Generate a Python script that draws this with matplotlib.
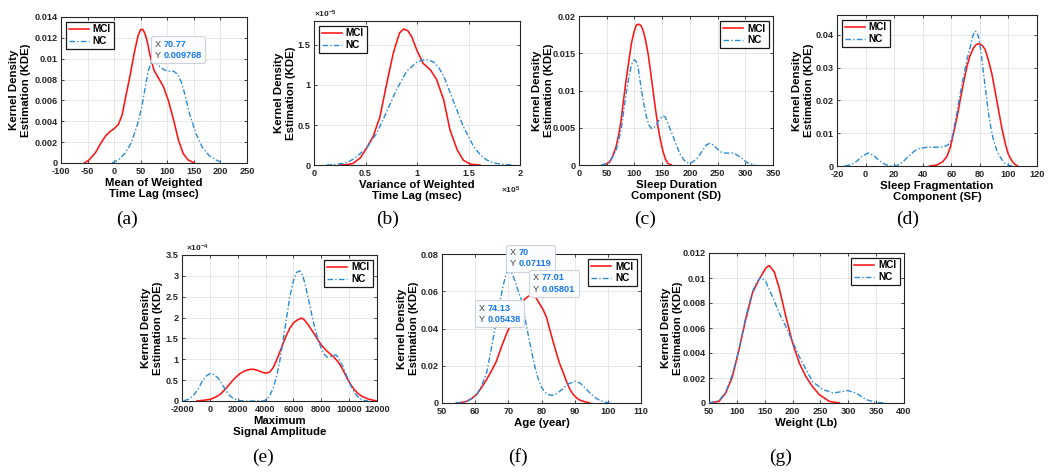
import numpy as np
import matplotlib
matplotlib.use("Agg")
import matplotlib.pyplot as plt
from matplotlib.ticker import FuncFormatter
from matplotlib.lines import Line2D
from matplotlib.offsetbox import TextArea, HPacker, VPacker, AnnotationBbox

plt.rcParams["font.family"] = ["Liberation Sans", "DejaVu Sans"]
plt.rcParams["font.weight"] = "bold"
plt.rcParams["mathtext.default"] = "regular"

# ---- data ----
# (a) mean of weighted time lag
a_mci_x = [-56, -47, -35, -25, -16, -8, 0, 8, 15, 22, 30, 38, 45, 50, 54, 58, 62, 69, 75, 84, 93, 102, 112, 121, 130, 139, 151]
a_mci_y = [0, 0.0003, 0.001, 0.0019, 0.0026, 0.003, 0.0033, 0.0037, 0.0046, 0.0064, 0.0084, 0.0106, 0.0122, 0.0128,
           0.0128, 0.0124, 0.0117, 0.0100, 0.0089, 0.0081, 0.0073, 0.006, 0.0041, 0.0022, 0.0009, 0.0003, 0]
a_nc_x = [-4, 8, 20, 32, 44, 52, 58, 64, 70.77, 78, 87, 95, 103, 112, 120, 126, 132, 142, 154, 166, 179, 191, 205]
a_nc_y = [0, 0.0003, 0.0009, 0.0019, 0.0037, 0.0054, 0.0071, 0.0088, 0.009768, 0.0096, 0.0092, 0.0089, 0.0088,
          0.0088, 0.0085, 0.0078, 0.0068, 0.0047, 0.0028, 0.0015, 0.0007, 0.0003, 0]

# (b) variance of weighted time lag (x in 1e5, y in 1e-5)
b_mci_x = [0.25, 0.32, 0.38, 0.45, 0.51, 0.575, 0.64, 0.70, 0.77, 0.83, 0.87, 0.91, 0.95, 1.0, 1.06, 1.13, 1.19,
           1.26, 1.32, 1.39, 1.45, 1.52, 1.61]
b_mci_y = [0, 0.005, 0.02, 0.09, 0.21, 0.36, 0.6, 0.98, 1.4, 1.65, 1.70, 1.68, 1.6, 1.43, 1.27, 1.19, 1.07, 0.81,
           0.44, 0.19, 0.06, 0.01, 0]
b_nc_x = [0.12, 0.2, 0.28, 0.35, 0.41, 0.51, 0.61, 0.70, 0.80, 0.90, 1.0, 1.08, 1.16, 1.21, 1.26, 1.35, 1.45, 1.55,
          1.62, 1.68, 1.75, 1.81, 1.94]
b_nc_y = [0, 0.005, 0.02, 0.05, 0.1, 0.21, 0.4, 0.65, 0.94, 1.17, 1.29, 1.32, 1.29, 1.22, 1.11, 0.81, 0.48, 0.23,
          0.12, 0.06, 0.025, 0.01, 0]
B_XSCALE = 1e5
B_YSCALE = 1e-5

# (c) sleep duration component
c_mci_x = [46, 55, 61, 67, 72, 76, 80, 85, 90, 94.5, 99, 103.5, 108, 112, 115.5, 120, 124.5, 129, 133.6, 138, 142.6,
           147, 151.6, 156, 160.6, 166.7]
c_mci_y = [0, 0.0004, 0.0012, 0.0025, 0.0042, 0.006, 0.0085, 0.0114, 0.014, 0.0163, 0.0178, 0.0188, 0.0189, 0.0187,
           0.0181, 0.0168, 0.015, 0.0126, 0.01, 0.0075, 0.0051, 0.0033, 0.0018, 0.0008, 0.0002, 0]
c_nc_x = [40, 55, 67, 76, 85, 90, 94.5, 98, 100.5, 103, 106.5, 112.5, 117, 121.5, 126, 130.6, 135, 139.6, 145, 151.6,
          156, 160.6, 165, 170, 176, 182, 190, 198, 205, 213, 219, 225, 230, 235.7, 242, 249, 255, 261, 270, 279,
          286, 294, 300, 306, 318]
c_nc_y = [0, 0.0003, 0.002, 0.0047, 0.0096, 0.0118, 0.0134, 0.014, 0.0141, 0.0139, 0.0132, 0.0101, 0.0082, 0.0065,
          0.0054, 0.0049, 0.005, 0.0054, 0.0061, 0.0066, 0.0064, 0.0056, 0.0047, 0.0038, 0.0026, 0.0015, 0.0006,
          0.0002, 0.0004, 0.0009, 0.0015, 0.0022, 0.0027, 0.0029, 0.0027, 0.0022, 0.0018, 0.0016, 0.0016, 0.0016,
          0.0013, 0.0009, 0.0005, 0.0002, 0]

# (d) sleep fragmentation component
d_mci_x = [45, 50, 54, 57, 59.5, 61.5, 64, 66.2, 68.5, 70.9, 73, 75.6, 77.5, 79.5, 81.5, 83.7, 86, 88.4, 90.7, 93.1,
           95.5, 97.8, 100, 102.5, 104.5, 106.5]
d_mci_y = [0, 0.0003, 0.0013, 0.0029, 0.006, 0.0098, 0.0148, 0.02, 0.0252, 0.0302, 0.0335, 0.036, 0.037, 0.0373,
           0.0368, 0.0355, 0.0322, 0.0281, 0.0227, 0.017, 0.0113, 0.0068, 0.0035, 0.0015, 0.0005, 0]
d_nc_x = [-14.6, -10, -6, -2, 2, 6, 10, 14, 18, 22, 26, 30, 34, 38, 43, 48, 54.5, 58, 60.5, 63.8, 66, 68.5, 71, 73.2,
          75, 76.5, 78, 79.5, 81, 82.6, 84.5, 86.1, 88, 89.6, 92, 94.3, 97, 99, 102.5]
d_nc_y = [0, 0.0004, 0.0015, 0.0031, 0.004, 0.0031, 0.0015, 0.0004, 0, 0.0001, 0.0012, 0.0029, 0.0045, 0.0054,
          0.0057, 0.0057, 0.0058, 0.0065, 0.0085, 0.0159, 0.0215, 0.0271, 0.0325, 0.0362, 0.0395, 0.0411, 0.0408,
          0.0385, 0.034, 0.0281, 0.0215, 0.0159, 0.011, 0.0078, 0.0046, 0.0027, 0.001, 0.0004, 0]

# (e) maximum signal amplitude (y in 1e-4)
e_mci_x = [-930, -500, 25, 400, 740, 1100, 1455, 1800, 2170, 2500, 2890, 3150, 3360, 3600, 3840, 4080, 4317, 4550,
           4790, 5030, 5270, 5500, 5750, 6000, 6220, 6580, 6800, 7050, 7290, 7530, 7770, 8010, 8300, 8600, 8900,
           9200, 9500, 9800, 10100, 10400, 10700, 11000, 11350, 11700, 12000]
e_mci_y = [0, 0.015, 0.04, 0.09, 0.16, 0.28, 0.42, 0.55, 0.66, 0.72, 0.76, 0.76, 0.74, 0.71, 0.68, 0.67, 0.70, 0.8,
           0.98, 1.18, 1.39, 1.58, 1.75, 1.87, 1.93, 1.99, 1.94, 1.83, 1.71, 1.59, 1.46, 1.34, 1.23, 1.14, 1.05,
           0.94, 0.78, 0.58, 0.4, 0.26, 0.16, 0.1, 0.05, 0.02, 0]
e_nc_x = [-1880, -1500, -1165, -850, -570, -250, 25, 320, 620, 920, 1220, 1450, 1695, 2000, 2410, 3840, 4100, 4317,
          4550, 4790, 5030, 5270, 5500, 5750, 6000, 6220, 6460, 6640, 6820, 7050, 7290, 7530, 7770, 8010, 8250,
          8450, 8600, 8850, 9085, 9300, 9560, 9800, 10040, 10280, 10520, 10760, 11000, 11350]
e_nc_y = [0, 0.05, 0.137, 0.28, 0.46, 0.6, 0.66, 0.63, 0.54, 0.38, 0.22, 0.12, 0.06, 0.02, 0, 0, 0.04, 0.137, 0.32,
          0.58, 0.98, 1.47, 1.98, 2.51, 2.88, 3.08, 3.12, 3.02, 2.83, 2.48, 2.11, 1.75, 1.47, 1.25, 1.10, 1.05, 1.06,
          1.1, 1.10, 0.98, 0.82, 0.62, 0.42, 0.26, 0.14, 0.06, 0.02, 0]
E_YSCALE = 1e-4

# (f) age
f_mci_x = [54.3, 56, 57.4, 59, 60.4, 62, 63.4, 65, 66.4, 67.9, 69.2, 70.5, 72, 73.2, 74.2, 75.5, 76.5, 77.01, 78, 79,
           80.5, 81.5, 82.5, 83.5, 84.5, 85.5, 86.6, 87.6, 88.6, 89.6, 90.6, 91.6, 92.6, 94.6]
f_mci_y = [0, 0.0003, 0.0009, 0.0025, 0.0045, 0.0085, 0.0125, 0.0175, 0.0224, 0.03, 0.036, 0.0415, 0.047, 0.051,
           0.0544, 0.0566, 0.0578, 0.05801, 0.0575, 0.0545, 0.0501, 0.046, 0.0394, 0.033, 0.0268, 0.021, 0.0161,
           0.0112, 0.0072, 0.0045, 0.0027, 0.0015, 0.0009, 0]
f_nc_x = [54.3, 56, 57.4, 59, 60.5, 62, 63.5, 65, 66.2, 67.4, 68.5, 69.3, 70, 70.9, 72, 73, 74.13, 75, 76, 77, 78,
          79, 80, 81, 82, 83, 84, 85, 86.5, 88, 90, 91.5, 92.6, 94, 95.1, 96.5, 97.6, 99, 100.7]
f_nc_y = [0, 0.0004, 0.0009, 0.0022, 0.0045, 0.0095, 0.0165, 0.0305, 0.042, 0.0537, 0.0635, 0.069, 0.07119, 0.0705,
          0.0655, 0.06, 0.05438, 0.046, 0.0365, 0.0275, 0.0195, 0.013, 0.0085, 0.0058, 0.0046, 0.0041, 0.0044,
          0.0055, 0.0078, 0.0102, 0.0116, 0.0108, 0.0092, 0.0065, 0.0045, 0.0025, 0.0014, 0.0005, 0]

# (g) weight
g_mci_x = [50, 68, 80, 92, 104, 116, 128, 140, 152, 158, 167, 176, 188, 200, 212, 224, 236, 248, 266, 284]
g_mci_y = [0, 0.00013, 0.0008, 0.0021, 0.0043, 0.0067, 0.0088, 0.0099, 0.0108, 0.011, 0.0105, 0.0092, 0.0069,
           0.0048, 0.0032, 0.0021, 0.0013, 0.00067, 0.00013, 0]
g_nc_x = [50, 68, 80, 92, 104, 116, 128, 136, 143, 152, 164, 176, 188, 200, 212, 224, 236, 254, 272, 287, 299, 314,
          332, 350, 368]
g_nc_y = [0, 0.0002, 0.00085, 0.0023, 0.0043, 0.0069, 0.0089, 0.0097, 0.01005, 0.0097, 0.0085, 0.0072, 0.0061,
          0.0049, 0.0037, 0.0027, 0.0017, 0.0011, 0.0008, 0.0009, 0.001, 0.0008, 0.00027, 0.00005, 0]

RED = "#ff1414"
BLUE = "#2a8bd6"
NC_DASH = (0, (4, 1.6, 1, 1.6))
TICK_FS = 6.6
LEG_FS = 7.2
TIP_FS = 6.6
LABEL_FS = 8.2
W, H = 1050, 474

fig = plt.figure(figsize=(W / 100, H / 100), dpi=100)


def make_axes(left, right, top, bottom):
    return fig.add_axes([left / W, 1 - bottom / H, (right - left) / W, (bottom - top) / H])


def panel(ax, mx, my, nx, ny, xlim, ylim, xticks, yticks, xlabel, loc, ylab_dx, xs=1.0, ys=1.0):
    ax.plot(np.array(mx) * xs, np.array(my) * ys, color=RED, lw=1.15, zorder=3)
    ax.plot(np.array(nx) * xs, np.array(ny) * ys, color=BLUE, lw=1.0, ls=NC_DASH, zorder=3)
    ax.set_xlim(xlim[0] * xs, xlim[1] * xs)
    ax.set_ylim(ylim[0] * ys, ylim[1] * ys)
    ax.set_xticks(np.array(xticks) * xs)
    ax.set_yticks(np.array(yticks) * ys)
    ax.xaxis.set_major_formatter(FuncFormatter(lambda v, p: f"{v / xs:g}"))
    ax.yaxis.set_major_formatter(FuncFormatter(lambda v, p: f"{v / ys:g}"))
    ax.tick_params(direction="in", length=2.5, width=0.6, top=True, right=True,
                   labelsize=TICK_FS, colors="#262626")
    ax.tick_params(axis="x", pad=3.2)
    ax.tick_params(axis="y", pad=2.5)
    for lab in ax.get_xticklabels() + ax.get_yticklabels():
        lab.set_fontweight("bold")
    ax.grid(True, color="#e3e3e3", lw=0.6)
    ax.set_axisbelow(True)
    for s in ax.spines.values():
        s.set_color("#262626")
        s.set_linewidth(0.8)
    ax.set_xlabel(xlabel, fontsize=LABEL_FS, fontweight="bold", labelpad=1, linespacing=1.15)
    ax.set_ylabel("Kernel Density\nEstimation (KDE)", fontsize=LABEL_FS, fontweight="bold",
                  va="center", linespacing=1.15)
    bb = ax.get_position()
    ax.yaxis.set_label_coords(-ylab_dx / (bb.width * W), 0.5)
    handles = [Line2D([], [], color=RED, lw=1.15), Line2D([], [], color=BLUE, lw=1.0, ls=NC_DASH)]
    leg = ax.legend(handles, ["MCI", "NC"], loc=loc, prop={"weight": "bold", "size": LEG_FS},
                    fancybox=False, framealpha=1, edgecolor="#1a1a1a", handlelength=2.0,
                    handletextpad=0.4, borderpad=0.3, labelspacing=0.15, borderaxespad=0.45)
    leg.get_frame().set_linewidth(0.9)


def datatip(ax, x, y, xs, ys, align, off):
    rows = []
    for key, val in (("X", xs), ("Y", ys)):
        rows.append(HPacker(children=[
            TextArea(key, textprops=dict(color="#404040", size=TIP_FS, weight="normal")),
            TextArea(val, textprops=dict(color="#1577f0", size=TIP_FS, weight="bold"))],
            sep=2, pad=0, align="baseline"))
    box = VPacker(children=rows, sep=1.5, pad=0, align="left")
    ab = AnnotationBbox(box, (x, y), xybox=off, boxcoords="offset points", box_alignment=align,
                        frameon=True, pad=0.25, annotation_clip=False, zorder=6,
                        bboxprops=dict(boxstyle="round,pad=0.25,rounding_size=0.15", fc="#fbfcfe",
                                       ec="#cdd3da", lw=0.8))
    ax.add_artist(ab)


ax_a = make_axes(61, 247, 17, 163)
panel(ax_a, a_mci_x, a_mci_y, a_nc_x, a_nc_y, (-100, 250), (0, 0.014), range(-100, 251, 50),
      np.arange(0, 0.0141, 0.002), "Mean of Weighted\nTime Lag (msec)", "upper left", 41)
datatip(ax_a, 70.77, 0.009768, "70.77", "0.009768", (0, 0), (2, 1))

ax_b = make_axes(314, 520, 21, 165)
panel(ax_b, b_mci_x, b_mci_y, b_nc_x, b_nc_y, (0, 2), (0, 1.8), [0, 0.5, 1, 1.5, 2], [0, 0.5, 1, 1.5],
      "Variance of Weighted\nTime Lag (msec)", "upper left", 29, xs=B_XSCALE, ys=B_YSCALE)
ax_b.text(0, 1.01, r"$\times10^{-5}$", transform=ax_b.transAxes, fontsize=6, color="#262626",
          ha="left", va="bottom")
ax_b.text(1, -0.14, r"$\times10^{5}$", transform=ax_b.transAxes, fontsize=6, color="#262626",
          ha="right", va="top")

ax_c = make_axes(579, 773, 16, 165)
panel(ax_c, c_mci_x, c_mci_y, c_nc_x, c_nc_y, (0, 350), (0, 0.02), range(0, 351, 50),
      [0, 0.005, 0.01, 0.015, 0.02], "Sleep Duration\nComponent (SD)", "upper right", 36)

ax_d = make_axes(837, 1037, 15, 166)
panel(ax_d, d_mci_x, d_mci_y, d_nc_x, d_nc_y, (-20, 120), (0, 0.046), range(-20, 121, 20),
      [0, 0.01, 0.02, 0.03, 0.04], "Sleep Fragmentation\nComponent (SF)", "upper left", 34)

ax_e = make_axes(182, 377, 255, 401)
panel(ax_e, e_mci_x, e_mci_y, e_nc_x, e_nc_y, (-2000, 12000), (0, 3.5), range(-2000, 12001, 2000),
      np.arange(0, 3.51, 0.5), "Maximum\nSignal Amplitude", "upper right", 30, ys=E_YSCALE)
ax_e.text(0.02, 1.01, r"$\times10^{-4}$", transform=ax_e.transAxes, fontsize=6, color="#262626",
          ha="left", va="bottom")

ax_f = make_axes(442, 641, 254, 403)
panel(ax_f, f_mci_x, f_mci_y, f_nc_x, f_nc_y, (50, 110), (0, 0.08), range(50, 111, 10),
      [0, 0.02, 0.04, 0.06, 0.08], "Age (year)", "upper right", 34)
datatip(ax_f, 70, 0.07119, "70", "0.07119", (0, 0), (1, 1.5))
datatip(ax_f, 77.01, 0.05801, "77.01", "0.05801", (0, 0), (1, 1))
datatip(ax_f, 74.13, 0.05438, "74.13", "0.05438", (1, 1), (-1, -1.5))

ax_g = make_axes(709, 904, 253, 403)
panel(ax_g, g_mci_x, g_mci_y, g_nc_x, g_nc_y, (50, 400), (0, 0.012), range(50, 401, 50),
      np.arange(0, 0.0121, 0.002), "Weight (Lb)", "upper right", 37)

captions = [("(a)", 127, 219), ("(b)", 388, 219), ("(c)", 645, 219), ("(d)", 908, 219),
            ("(e)", 263, 457), ("(f)", 518, 457), ("(g)", 781, 457)]
for txt, cx, cy in captions:
    fig.text(cx / W, 1 - cy / H, txt, family="Liberation Serif", fontsize=14, fontweight="normal",
             ha="center", va="center")

fig.savefig("out.png", dpi=100)
